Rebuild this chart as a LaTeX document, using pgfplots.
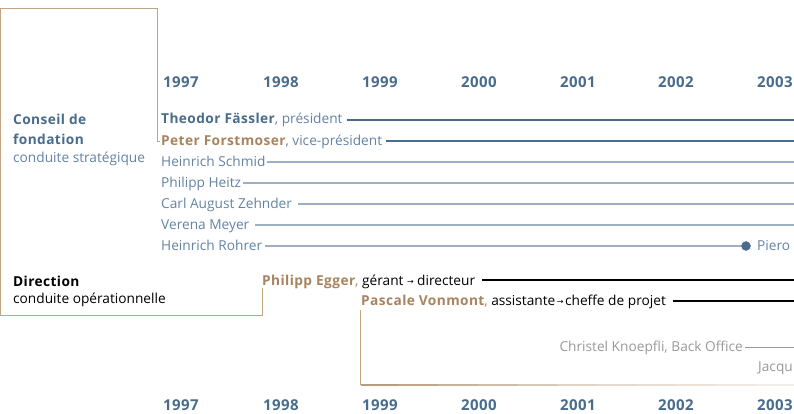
\documentclass[border=0pt]{standalone}
\usepackage{fontspec}
\setmainfont{Open Sans}[BoldFeatures={LetterSpace=3}]
\newfontfamily\sym{DejaVu Sans}
\usepackage{pgfplots}
\pgfplotsset{compat=1.18}
\definecolor{dblue}{HTML}{4A6C8C}
\definecolor{mblue}{HTML}{6483A2}
\definecolor{lline}{HTML}{9DAFC1}
\definecolor{tanc}{HTML}{A8845E}
\definecolor{boxtan}{HTML}{C4A383}
\definecolor{greyt}{HTML}{999999}
\newcommand{\tx}{\fontsize{13.7}{16}\selectfont}
\newcommand{\yr}{\fontsize{15}{17}\selectfont\bfseries}
\newcommand{\arr}{{\sym\fontsize{8}{10}\selectfont\raisebox{0.5pt}{→}}}
\begin{document}
\begin{tikzpicture}[x=1pt,y=1pt]
\begin{axis}[at={(0,0)}, anchor=south west, scale only axis, width=794pt, height=413pt,
  xmin=1995.1717, xmax=2003.1919, ymin=0, ymax=413, y dir=reverse,
  hide axis, clip=false]
% box outlines
\addplot[boxtan, line width=1pt] coordinates {(1996.788,141) (1996.7576,141) (1996.7576,8) (1995.1788,8) (1995.1788,315) (1997.828,315) (1997.828,288)};
\addplot[boxtan, line width=1pt] coordinates {(1998.818,310) (1998.818,385)};
\addplot[mesh, point meta=x, line width=1.2pt,
  colormap={fade}{color=(tanc!85!white) color=(tanc!35!white) color=(tanc!12!white)}]
  coordinates {(1998.818,385) (1999.2,385) (1999.6,385) (2000.0,385) (2000.4,385) (2000.8,385) (2001.2,385) (2001.6,385) (2002.0,385) (2002.4,385) (2002.8,385) (2003.25,385)};
% council
\addplot[dblue, line width=2pt] coordinates {(1998.677,120) (2003.25,120)};
\addplot[dblue, line width=2pt] coordinates {(1999.071,141) (2003.25,141)};
\addplot[lline, line width=1.5pt] coordinates {(1997.869,162) (2003.25,162)};
\addplot[lline, line width=1.5pt] coordinates {(1997.626,183) (2003.25,183)};
\addplot[lline, line width=1.5pt] coordinates {(1998.182,204) (2003.25,204)};
\addplot[lline, line width=1.5pt] coordinates {(1997.747,225) (2003.25,225)};
\addplot[lline, line width=1.5pt] coordinates {(1997.848,246) (2002.707,246)};
\addplot[dblue, only marks, mark=*, mark size=4.5pt] coordinates {(2002.707,246)};
% direction
\addplot[black, line width=2pt] coordinates {(2000.040,280) (2003.25,280)};
\addplot[black, line width=1.3pt] coordinates {(2001.970,301) (2003.25,301)};
\addplot[greyt, line width=1pt] coordinates {(2002.697,347) (2003.25,347)};
\end{axis}
% year labels
\foreach \y/\px in {1997/181,1998/281,1999/380,2000/479,2001/578,2002/676,2003/775}{
  \node[anchor=base, inner sep=0, text=dblue] at (\px,413-88) {\yr \y};
  \node[anchor=base, inner sep=0, text=dblue] at (\px,413-410) {\yr \y};
}
% left headings
\node[anchor=base west, inner sep=0, text=dblue] at (13,413-125) {\tx\bfseries Conseil de};
\node[anchor=base west, inner sep=0, text=dblue] at (13,413-144) {\tx\bfseries fondation};
\node[anchor=base west, inner sep=0, text=mblue] at (13,413-162) {\tx conduite stratégique};
\node[anchor=base west, inner sep=0, text=black] at (13,413-286) {\tx\bfseries Direction};
\node[anchor=base west, inner sep=0, text=black] at (13,413-303) {\tx conduite opérationnelle};
% members
\node[anchor=base west, inner sep=0] at (161,413-124) {\tx{\bfseries\color{dblue}Theodor Fässler}\color{mblue}, président};
\node[anchor=base west, inner sep=0] at (161,413-145) {\tx{\bfseries\color{tanc}Peter Forstmoser}\color{mblue}, vice-président};
\node[anchor=base west, inner sep=0, text=mblue] at (161,413-166) {\tx Heinrich Schmid};
\node[anchor=base west, inner sep=0, text=mblue] at (161,413-187) {\tx Philipp Heitz};
\node[anchor=base west, inner sep=0, text=mblue] at (161,413-208) {\tx Carl August Zehnder};
\node[anchor=base west, inner sep=0, text=mblue] at (161,413-229) {\tx Verena Meyer};
\node[anchor=base west, inner sep=0, text=mblue] at (161,413-250) {\tx Heinrich Rohrer};
\node[anchor=base west, inner sep=0, text=mblue] at (757,413-250) {\tx Piero};
\node[anchor=base west, inner sep=0] at (262,413-285) {\tx{\bfseries\color{tanc}Philipp Egger}{\color{tanc},} gérant\hspace{3.5pt}\arr\hspace{3.5pt}directeur};
\node[anchor=base west, inner sep=0] at (361,413-305) {\tx{\bfseries\color{tanc}Pascale Vonmont}{\color{tanc},} assistante\hspace{1.5pt}\arr\hspace{1.5pt}cheffe de projet};
\node[anchor=base east, inner sep=0, text=greyt] at (743,413-351) {\tx Christel Knoepfli, Back Office};
\node[anchor=base west, inner sep=0, text=greyt] at (758,413-371) {\tx Jacqu};
\pgfresetboundingbox
\useasboundingbox (0,0) rectangle (794,413);
\end{tikzpicture}
\end{document}
